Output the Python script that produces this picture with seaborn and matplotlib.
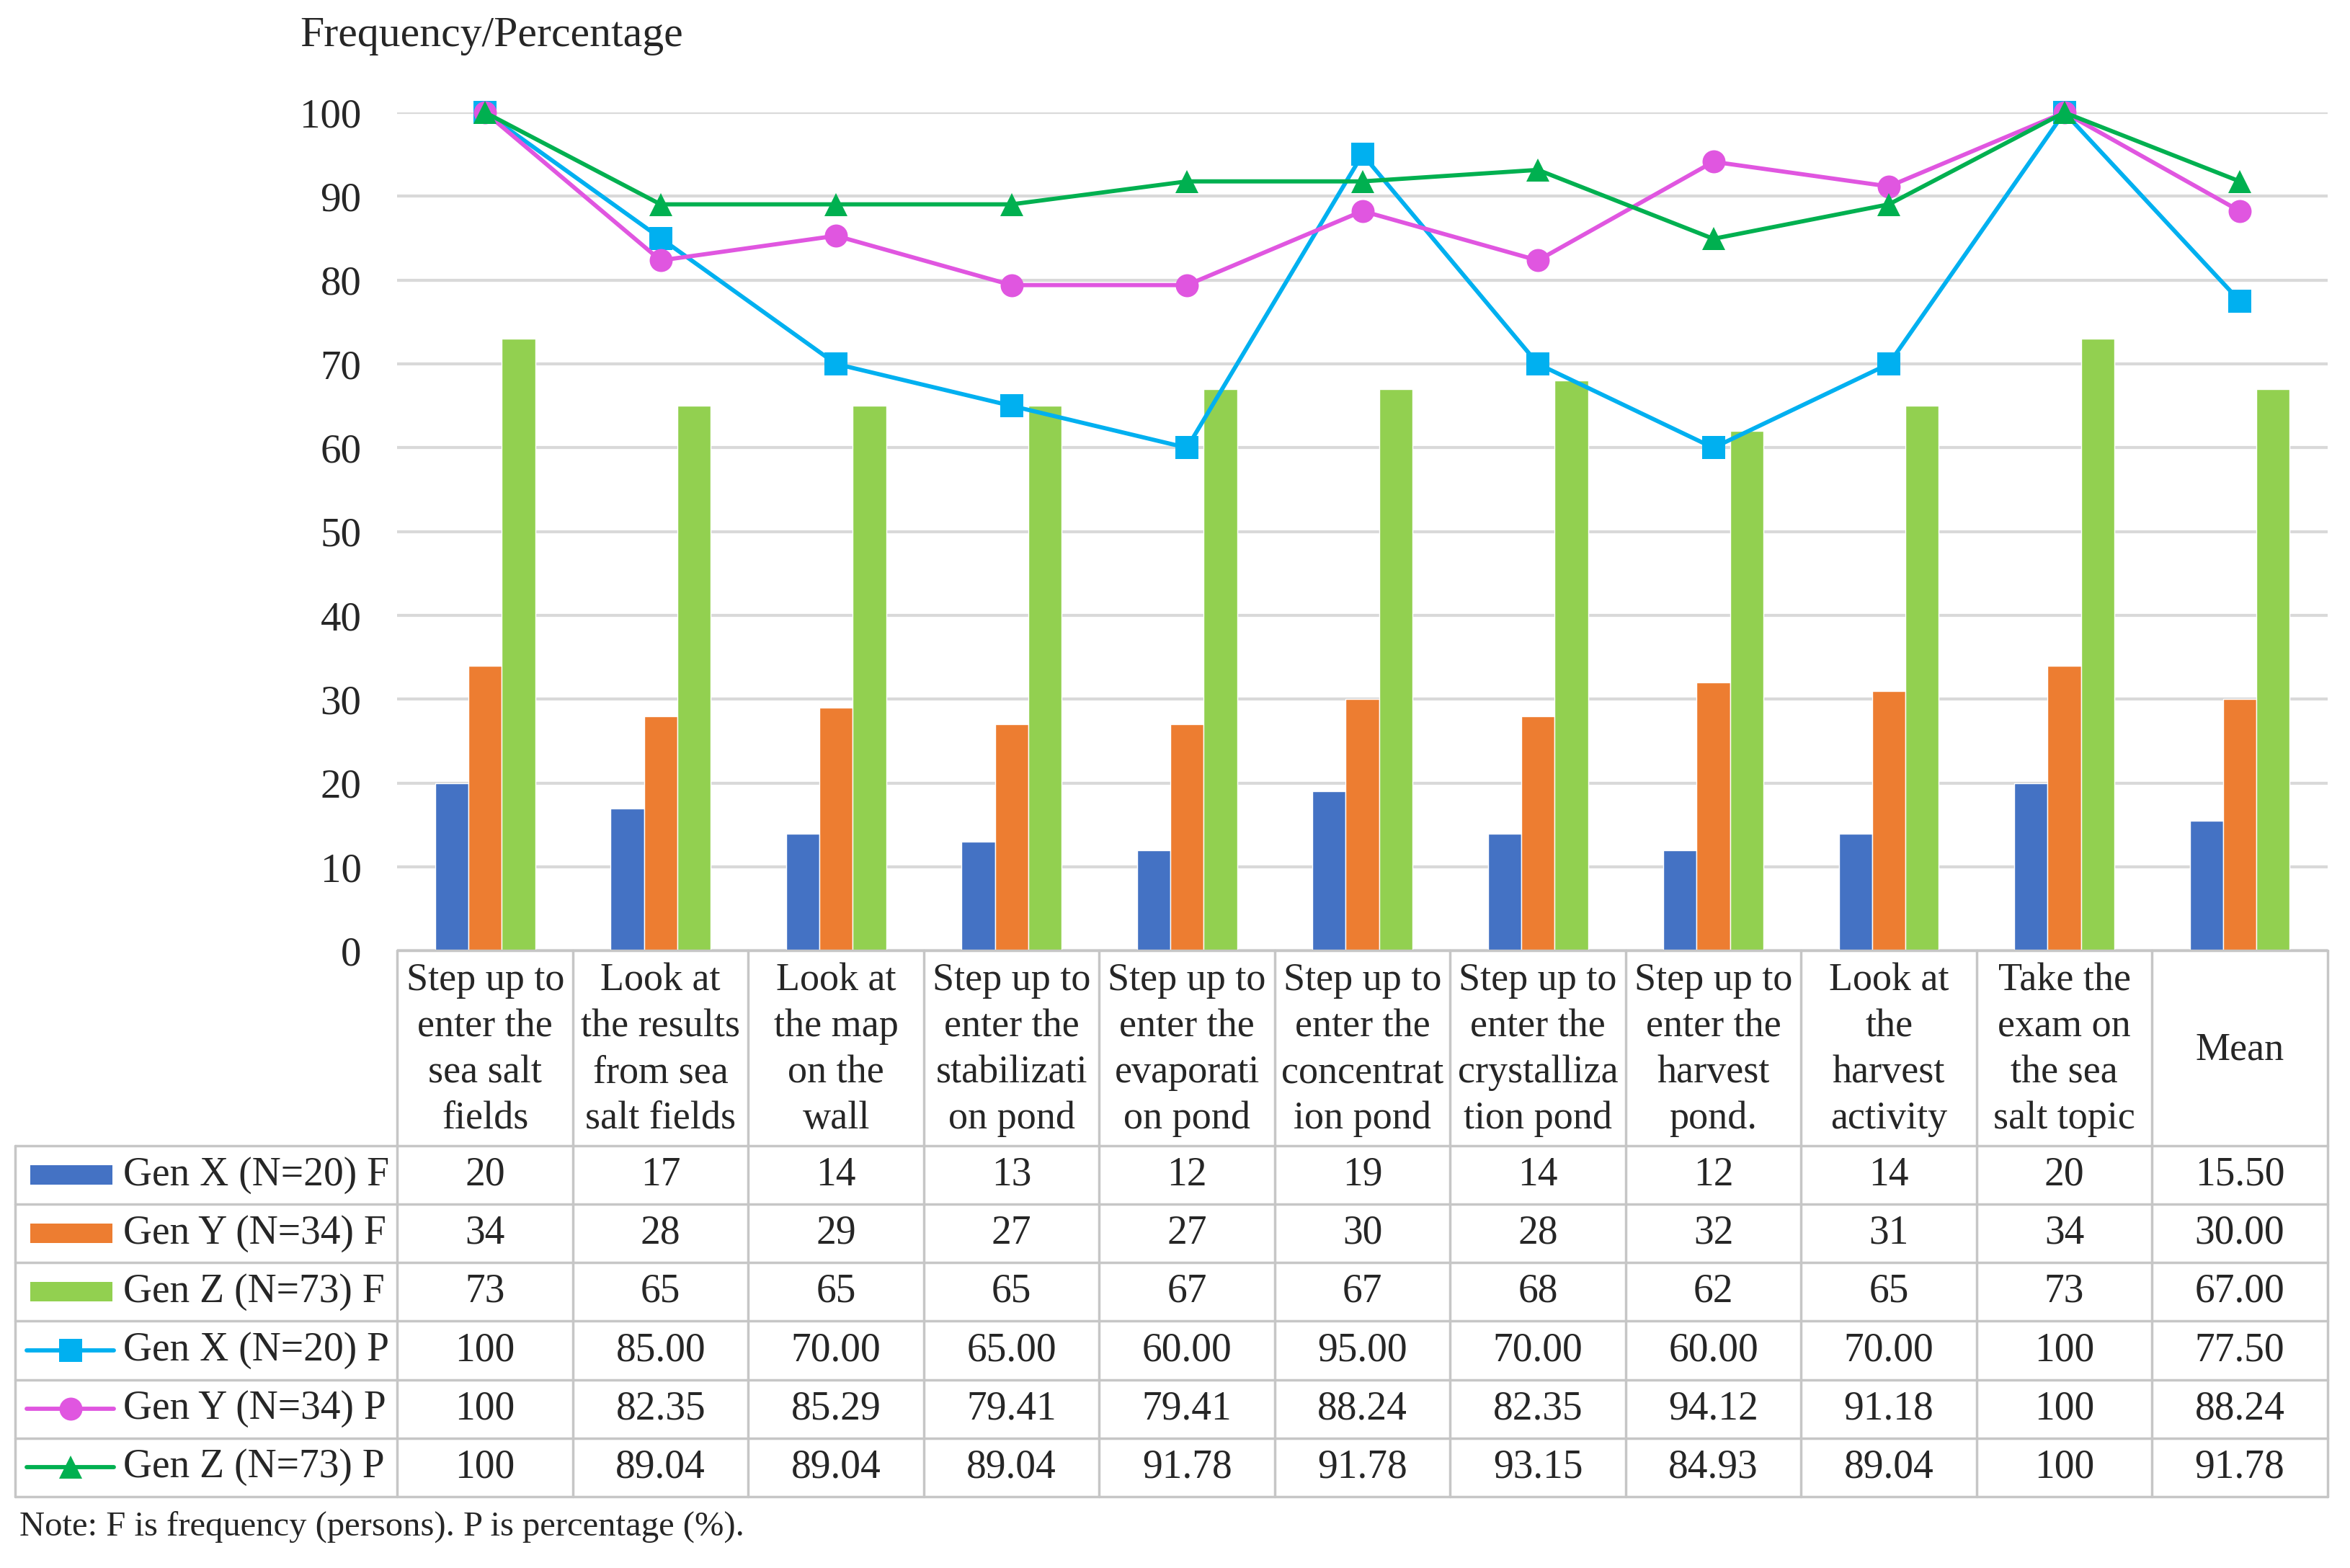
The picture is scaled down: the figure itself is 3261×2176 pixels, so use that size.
import matplotlib
matplotlib.use('Agg')

import matplotlib.pyplot as plt
import seaborn as sns
import pandas as pd
import numpy as np
from matplotlib.lines import Line2D
from matplotlib.patches import Rectangle

categories = ['Step up to\nenter the\nsea salt\nfields',
              'Look at\nthe results\nfrom sea\nsalt fields',
              'Look at\nthe map\non the\nwall',
              'Step up to\nenter the\nstabilizati\non pond',
              'Step up to\nenter the\nevaporati\non pond',
              'Step up to\nenter the\nconcentrat\nion pond',
              'Step up to\nenter the\ncrystalliza\ntion pond',
              'Step up to\nenter the\nharvest\npond.',
              'Look at\nthe\nharvest\nactivity',
              'Take the\nexam on\nthe sea\nsalt topic',
              'Mean']

genx_f = [20, 17, 14, 13, 12, 19, 14, 12, 14, 20, 15.50]
geny_f = [34, 28, 29, 27, 27, 30, 28, 32, 31, 34, 30.00]
genz_f = [73, 65, 65, 65, 67, 67, 68, 62, 65, 73, 67.00]
genx_p = [100, 85.00, 70.00, 65.00, 60.00, 95.00, 70.00, 60.00, 70.00, 100, 77.50]
geny_p = [100, 82.35, 85.29, 79.41, 79.41, 88.24, 82.35, 94.12, 91.18, 100, 88.24]
genz_p = [100, 89.04, 89.04, 89.04, 91.78, 91.78, 93.15, 84.93, 89.04, 100, 91.78]

bar_names = ['Gen X (N=20) F', 'Gen Y (N=34) F', 'Gen Z (N=73) F']
line_names = ['Gen X (N=20) P', 'Gen Y (N=34) P', 'Gen Z (N=73) P']
bar_colors = ['#4472C4', '#ED7D31', '#92D050']
line_colors = ['#00B0F0', '#E056E0', '#00B050']
line_markers = ['s', 'o', '^']

sns.set_style('white')
plt.rcParams['font.family'] = ['Liberation Serif', 'DejaVu Serif']

FS = 40
W, H = 1567.0, 1045.6   # layout grid (scaled px)
fig = plt.figure(figsize=(32.61, 21.76), dpi=100)

x_left, x_right = 265.0, 1552.0
y_top, y_zero = 75.0, 634.0
ax = fig.add_axes([x_left / W, 1 - y_zero / H, (x_right - x_left) / W, (y_zero - y_top) / H])

n = len(categories)
short = ['c%d' % i for i in range(n)]
df = pd.DataFrame({
    'cat': short * 3,
    'series': sum([[b] * n for b in bar_names], []),
    'val': genx_f + geny_f + genz_f,
})
sns.barplot(data=df, x='cat', y='val', hue='series', order=short, hue_order=bar_names,
            palette=bar_colors, width=0.57, saturation=1, legend=False, ax=ax, zorder=2)

for vals, col, mk in zip([genx_p, geny_p, genz_p], line_colors, line_markers):
    sns.lineplot(x=np.arange(n), y=vals, color=col, marker=mk, markersize=23,
                 markeredgewidth=0, linewidth=4.2, clip_on=False, zorder=4, ax=ax)

ax.set_xlim(-0.5, n - 0.5)
ax.set_ylim(0, 100)
ax.set_yticks(range(0, 101, 10))
ax.yaxis.grid(True, color='#D9D9D9', linewidth=3)
ax.set_axisbelow(True)
ax.set_xticks([])
ax.set_xlabel('')
ax.set_ylabel('')
ax.tick_params(axis='y', length=0, pad=36, labelsize=41)
for s in ax.spines.values():
    s.set_visible(False)

fig.text(200 / W, 1 - 24 / H, 'Frequency/Percentage', fontsize=43, ha='left', va='center')

# data table under the chart
tb = fig.add_axes([0, 0, 1, 1], zorder=5)
tb.set_xlim(0, W)
tb.set_ylim(H, 0)
tb.axis('off')
tb.patch.set_alpha(0)

gc = '#C6C6C6'
glw = 2.5
colw = (x_right - x_left) / n
t_left = 10.0
hdr_bot = 764.0
rowh = 39.0
t_bot = hdr_bot + 6 * rowh

# header cells
tb.plot([x_left, x_right], [y_zero, y_zero], color=gc, lw=glw)
for i in range(n + 1):
    xx = x_left + i * colw
    tb.plot([xx, xx], [y_zero, t_bot], color=gc, lw=glw)
tb.plot([t_left, t_left], [hdr_bot, t_bot], color=gc, lw=glw)
for r in range(7):
    yy = hdr_bot + r * rowh
    tb.plot([t_left, x_right], [yy, yy], color=gc, lw=glw)

for i, c in enumerate(categories):
    tb.text(x_left + (i + 0.5) * colw, (y_zero + hdr_bot) / 2 + 1, c, fontsize=39,
            ha='center', va='center', linespacing=1.35, multialignment='center')

rows = [genx_f, geny_f, genz_f, genx_p, geny_p, genz_p]
names = bar_names + line_names


def fmt(v, is_f, last):
    if v == 100:
        return '100'
    if last or not is_f:
        return '%.2f' % v
    return '%d' % v


for r, (vals, name) in enumerate(zip(rows, names)):
    yc = hdr_bot + (r + 0.5) * rowh
    if r < 3:
        tb.add_patch(Rectangle((20, yc - 6.5), 55, 13, color=bar_colors[r], lw=0))
    else:
        k = r - 3
        tb.add_line(Line2D([18, 76], [yc, yc], color=line_colors[k], lw=4.2))
        tb.add_line(Line2D([47], [yc], color=line_colors[k], marker=line_markers[k],
                           markersize=23, markeredgewidth=0))
    tb.text(82, yc, name, fontsize=FS, ha='left', va='center')
    for i, v in enumerate(vals):
        tb.text(x_left + (i + 0.5) * colw, yc, fmt(v, r < 3, i == n - 1), fontsize=FS,
                ha='center', va='center')

fig.text(13 / W, 1 - 1018 / H, 'Note: F is frequency (persons). P is percentage (%).',
         fontsize=35, ha='left', va='center')

plt.savefig('out.png', dpi=100)
